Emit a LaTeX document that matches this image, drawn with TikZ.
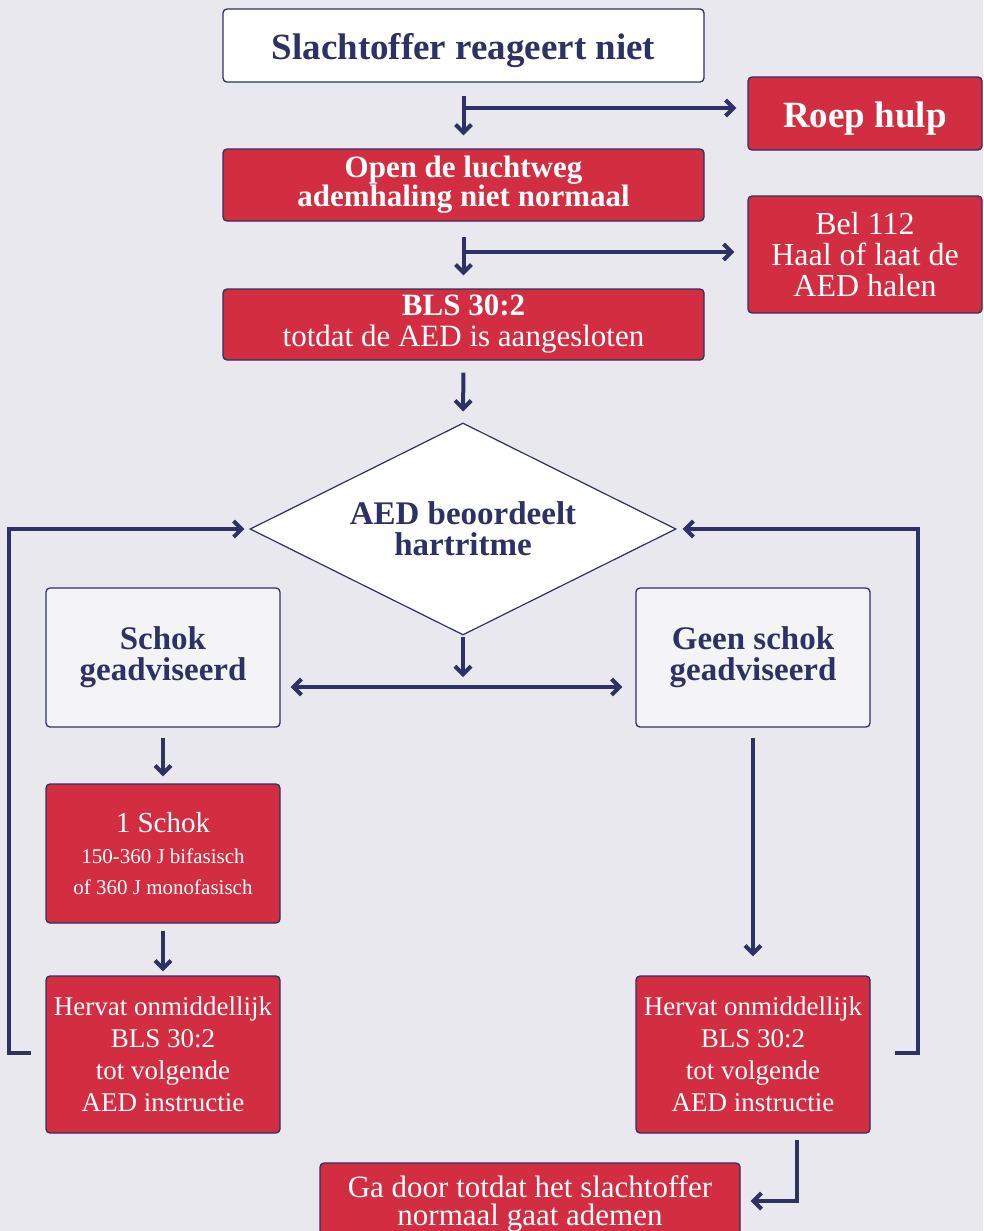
\documentclass[tikz,border=0pt]{standalone}
\usepackage{fontspec}
\setmainfont{Liberation Serif}
\usetikzlibrary{arrows.meta,shapes.geometric,calc}
\definecolor{bg}{HTML}{E9E8EE}
\definecolor{navy}{HTML}{2E3163}
\definecolor{aedred}{HTML}{D32D42}
\definecolor{pale}{HTML}{F4F4F7}
\begin{document}
\begin{tikzpicture}[x=1pt,y=-1pt,
  box/.style={draw=navy,line width=1.3pt,rounded corners=4pt,align=center,inner sep=0pt},
  redbox/.style={box,fill=aedred,text=white},
  whitebox/.style={box,fill=white,text=navy},
  palebox/.style={box,fill=pale,text=navy},
  conn/.style={draw=navy,line width=4pt,-{Straight Barb[length=8pt,width=16pt]}},
  twoway/.style={draw=navy,line width=4pt,{Straight Barb[length=8pt,width=16pt]}-{Straight Barb[length=8pt,width=16pt]}}]
\useasboundingbox (0,0) rectangle (983,1231);
\fill[bg] (0,0) rectangle (983,1231);

% boxes
\node[whitebox,minimum width=481,minimum height=73,font=\fontsize{37}{40}\selectfont\bfseries] (b1) at (463.5,45.5) {\raisebox{-5pt}[\height][\depth]{Slachtoffer reageert niet}};
\node[redbox,minimum width=234,minimum height=73,font=\fontsize{37}{40}\selectfont\bfseries] (roep) at (865,113.5) {\raisebox{-5pt}[\height][\depth]{Roep hulp}};
\node[redbox,minimum width=481,minimum height=72,font=\fontsize{31}{29}\selectfont\bfseries] (open) at (463.5,185) {Open de luchtweg\\ademhaling niet normaal};
\node[redbox,minimum width=234,minimum height=117,font=\fontsize{32}{31}\selectfont] (bel) at (865,254.5) {Bel 112\\Haal of laat de\\AED halen};
\node[redbox,minimum width=481,minimum height=71,font=\fontsize{31}{31}\selectfont] (bls) at (463.5,324.5) {{\bfseries BLS 30:2}\\totdat de AED is aangesloten};
\node[diamond,aspect=2,draw=navy,line width=1.2pt,fill=white,text=navy,inner sep=0pt,
      minimum width=426,minimum height=212,align=center,
      font=\fontsize{33}{31}\selectfont\bfseries] (dia) at (463,529) {AED beoordeelt\\hartritme};
\node[palebox,minimum width=234,minimum height=139,font=\fontsize{33}{31}\selectfont\bfseries] (schok) at (163,657.5) {Schok\\geadviseerd};
\node[palebox,minimum width=234,minimum height=139,font=\fontsize{33}{31}\selectfont\bfseries] (geen) at (753,657.5) {Geen schok\\geadviseerd};
\node[redbox,minimum width=234,minimum height=139,font=\fontsize{21}{31}\selectfont] (shock) at (163,853.5) {{\fontsize{29}{34}\selectfont 1 Schok}\\150-360 J bifasisch\\of 360 J monofasisch};
\node[redbox,minimum width=234,minimum height=157,font=\fontsize{27}{32}\selectfont] (hervL) at (163,1054.5) {Hervat onmiddellijk\\BLS 30:2\\tot volgende\\AED instructie};
\node[redbox,minimum width=234,minimum height=157,font=\fontsize{27}{32}\selectfont] (hervR) at (753,1054.5) {Hervat onmiddellijk\\BLS 30:2\\tot volgende\\AED instructie};
\node[redbox,minimum width=420,minimum height=82,font=\fontsize{31}{28}\selectfont] (gadoor) at (530,1204) {Ga door totdat het slachtoffer\\normaal gaat ademen};

% junction coordinates
\coordinate (j1) at (463,108);
\coordinate (j2) at (463,252);
\coordinate (jc) at (463,687);
\coordinate (jb) at (797,1140);

% vertical flow
\draw[conn,shorten <=13pt,shorten >=13pt] (b1.south) -- (open.north);
\draw[conn,shorten >=11pt] (j1) -- (j1 -| roep.west);
\draw[conn,shorten <=15pt,shorten >=13pt] (open.south) -- (bls.north);
\draw[conn,shorten >=13pt] (j2) -- (j2 -| bel.west);
\draw[conn,shorten <=12pt,shorten >=11pt] (bls.south) -- (dia.north);
\draw[conn,shorten <=1pt,shorten >=10pt] (dia.south) -- (jc);
\draw[twoway,shorten <=10pt,shorten >=13pt] (jc -| schok.east) -- (jc -| geen.west);
\draw[conn,shorten <=10pt,shorten >=7pt] (schok.south) -- (shock.north);
\draw[conn,shorten <=7pt,shorten >=4pt] (shock.south) -- (hervL.north);
\draw[conn,shorten <=10pt,shorten >=19pt] (geen.south) -- (hervR.north);

% loops
\draw[conn,shorten <=14pt,shorten >=5pt] ($(hervL.west)+(0,-2)$) -- ++(-36,0) |- (dia.west);
\draw[conn,shorten <=24pt,shorten >=6pt] ($(hervR.east)+(0,-2)$) -- ++(47,0) |- (dia.east);
\draw[conn,shorten >=10pt] (jb) |- ($(gadoor.east)+(0,-3)$);
\end{tikzpicture}
\end{document}
